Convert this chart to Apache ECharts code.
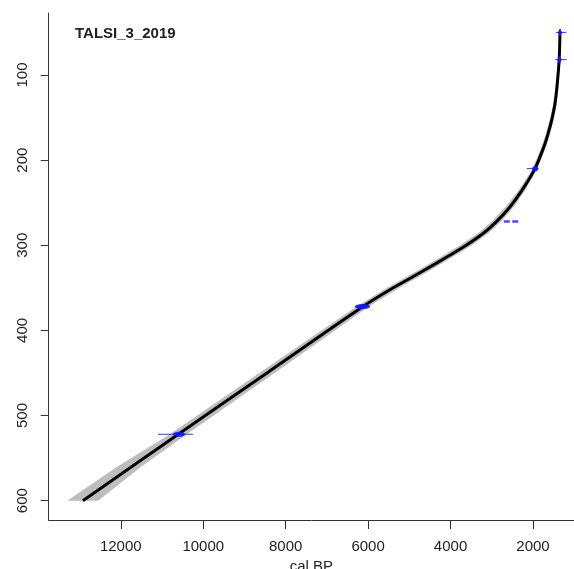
<!DOCTYPE html>
<html><head><meta charset="utf-8">
<script src="https://cdn.jsdelivr.net/npm/echarts@6/dist/echarts.min.js"></script>
<style>html,body{margin:0;padding:0;background:#fff}#c{width:574px;height:569px}</style>
</head><body><div id="c"></div>
<script>
const chartTitle = 'TALSI_3_2019';
const xAxisName = 'cal BP';
const xTicks = [2000, 4000, 6000, 8000, 10000, 12000];
const yTicks = [100, 200, 300, 400, 500, 600];

// age-depth model (best fit)
const curveDepth = [50, 82, 114, 135, 153, 170, 184, 210, 235, 255, 272, 285, 300, 313, 330, 350, 372, 450, 522, 600];
const curveAge   = [1345, 1365, 1418, 1470, 1546, 1640, 1733, 1951, 2260, 2560, 2880, 3180, 3620, 4060, 4660, 5390, 6124, 8453, 10605, 12920];

// grey confidence envelope
const bandDepth = [50, 82, 114, 135, 153, 170, 184, 210, 235, 255, 272, 285, 300, 313, 330, 350, 372, 450, 522, 560, 600];
const bandYoung = [1335, 1345, 1385, 1430, 1500, 1590, 1680, 1895, 2185, 2465, 2770, 3060, 3480, 3920, 4510, 5240, 5980, 8270, 10400, 11500, 12550];
const bandOld   = [1355, 1390, 1455, 1515, 1595, 1695, 1790, 2010, 2340, 2670, 3000, 3310, 3770, 4210, 4810, 5540, 6280, 8640, 10810, 12080, 13300];

// dated levels
const dateDepth = [50, 82, 210, 272, 372, 522];
const dateAge   = [1345, 1355, 1950, 2550, 6130, 10600];
const dateMin   = [1190, 1180, 1870, 2357, 5954, 10249];
const dateMax   = [1440, 1465, 2150, 2735, 6318, 11097];
const blobMin   = [1330, 1335, 1870, null, 5954, 10442];
const blobMax   = [1360, 1375, 2020, null, 6318, 10733];

const chart = echarts.init(document.getElementById('c'), null, {renderer: 'canvas'});
const font = 'Liberation Sans, Arial, sans-serif';

chart.setOption({
  animation: false,
  backgroundColor: '#fff',
  title: {
    text: chartTitle, left: 75, top: 26, padding: 0,
    textStyle: {fontSize: 15, fontWeight: 'bold', color: '#222', fontFamily: font}
  },
  grid: {left: 48.7, right: 0, top: 13, bottom: 49, containLabel: false, outerBoundsMode: 'none'},
  xAxis: {
    type: 'value', inverse: true, min: 1005, max: 13749,
    name: xAxisName, nameLocation: 'middle', nameGap: 37,
    nameTextStyle: {fontSize: 15, color: '#222', fontFamily: font},
    axisLine: {show: true, onZero: false, lineStyle: {color: '#333', width: 1}},
    axisTick: {show: true, length: 9, customValues: xTicks, lineStyle: {color: '#333'}},
    axisLabel: {customValues: xTicks, margin: 19, fontSize: 15, color: '#222', fontFamily: font,
      formatter: function (v) { return String(v); }},
    splitLine: {show: false}
  },
  yAxis: {
    type: 'value', inverse: true, min: 27.2, max: 622.7,
    axisLine: {show: true, onZero: false, lineStyle: {color: '#333', width: 1}},
    axisTick: {show: true, length: 8, customValues: yTicks, lineStyle: {color: '#333'}},
    axisLabel: {customValues: yTicks, rotate: 90, margin: 18, fontSize: 15, color: '#222', fontFamily: font,
      formatter: function (v) { return String(v); }},
    splitLine: {show: false}
  },
  series: [
    {
      type: 'custom', silent: true, z: 1,
      data: [[bandOld[0], bandDepth[0]]],
      encode: {x: 0, y: 1},
      renderItem: function (params, api) {
        const pts = [];
        for (let i = 0; i < bandDepth.length; i++) pts.push(api.coord([bandYoung[i], bandDepth[i]]));
        for (let i = bandDepth.length - 1; i >= 0; i--) pts.push(api.coord([bandOld[i], bandDepth[i]]));
        return {type: 'polygon', shape: {points: pts}, style: {fill: '#bdbdbd', stroke: null}};
      }
    },
    {
      type: 'line', z: 2, silent: true,
      data: curveAge.map((a, i) => [a, curveDepth[i]]),
      showSymbol: false, smooth: 0.3,
      lineStyle: {color: '#000', width: 3}
    },
    {
      type: 'custom', silent: true, z: 3,
      data: dateAge.map((a, i) => [a, dateDepth[i]]),
      encode: {x: 0, y: 1},
      renderItem: function (params, api) {
        const i = params.dataIndex;
        const d = dateDepth[i];
        const y = api.coord([dateAge[i], d])[1];
        const x0 = api.coord([dateMin[i], d])[0];
        const x1 = api.coord([dateMax[i], d])[0];
        const children = [];
        if (blobMin[i] == null) {
          children.push({type: 'line', shape: {x1: x0, y1: y, x2: x1, y2: y},
            style: {stroke: 'rgba(40,40,255,0.85)', lineWidth: 2.5, lineDash: [6, 2.5]}});
        } else {
          children.push({type: 'line', shape: {x1: x0, y1: y, x2: x1, y2: y},
            style: {stroke: 'rgba(30,30,255,0.9)', lineWidth: 1}});
          const b0 = api.coord([blobMin[i], d])[0];
          const b1 = api.coord([blobMax[i], d])[0];
          const w = Math.abs(b1 - b0);
          const cx = (b0 + b1) / 2;
          if (w < 5) {
            children.push({type: 'line', shape: {x1: cx, y1: y - 3.5, x2: cx, y2: y + 3.5},
              style: {stroke: 'rgba(30,30,255,0.9)', lineWidth: 2}});
            children.push({type: 'ellipse', shape: {cx: cx, cy: y, rx: 2, ry: 2},
              style: {fill: 'rgba(20,20,255,0.9)'}});
          } else {
            children.push({type: 'ellipse', shape: {cx: cx, cy: y, rx: w / 2, ry: 2.6},
              style: {fill: 'rgba(20,20,255,0.9)'}});
          }
        }
        return {type: 'group', children: children};
      }
    }
  ]
});
</script>
</body></html>
